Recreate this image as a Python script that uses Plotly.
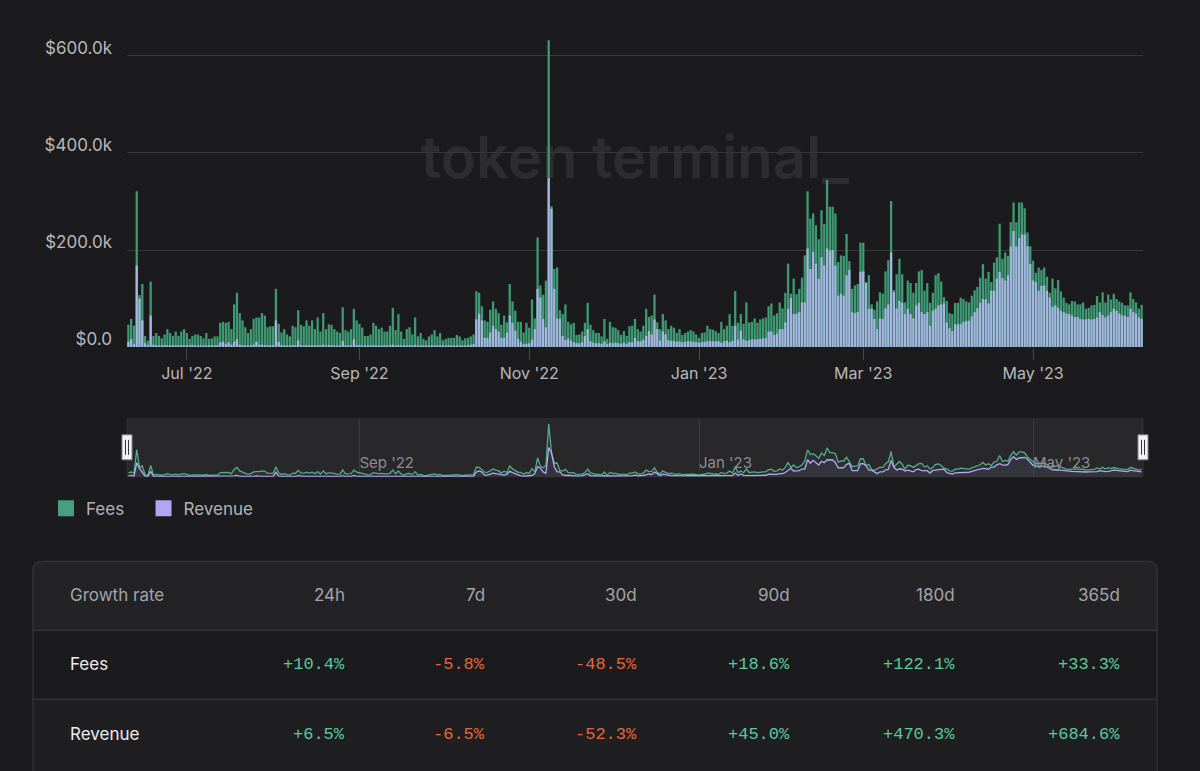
import plotly.graph_objects as go
import pandas as pd

# ---------------- data (daily, thousands of USD) ----------------
start_date = "2022-06-10"

fees_k = [
    46, 58, 44, 321, 107, 130, 23, 13, 135, 23,
    29, 23, 18, 26, 37, 29, 23, 32, 23, 32,
    37, 29, 17, 23, 26, 26, 23, 18, 29, 17,
    18, 22, 22, 50, 52, 50, 52, 37, 88, 112,
    70, 55, 41, 29, 37, 58, 61, 61, 70, 65,
    41, 43, 43, 120, 48, 30, 37, 26, 22, 44,
    41, 76, 46, 43, 55, 44, 55, 37, 61, 32,
    70, 37, 47, 46, 37, 32, 29, 82, 35, 32,
    37, 79, 55, 48, 40, 23, 23, 26, 50, 44,
    37, 40, 32, 32, 44, 81, 35, 68, 32, 17,
    37, 41, 26, 61, 22, 29, 17, 14, 22, 26,
    35, 22, 29, 14, 17, 19, 19, 19, 25, 22, 14, 18,
    19, 22, 26, 115, 112, 84, 55, 52, 77, 94,
    79, 70, 46, 65, 51, 130, 94, 75, 52, 52,
    30, 50, 40, 98, 59, 226, 127, 108, 137, 632,
    290, 161, 164, 76, 68, 88, 52, 47, 50, 25,
    26, 32, 50, 91, 46, 35, 29, 29, 22, 58,
    17, 52, 41, 40, 35, 25, 33, 23, 43, 44,
    58, 37, 32, 44, 79, 62, 65, 108, 51, 37,
    68, 55, 37, 44, 40, 29, 37, 25, 29, 32,
    35, 32, 26, 19, 29, 30, 44, 37, 36, 33,
    29, 52, 37, 44, 68, 44, 115, 50, 68, 48,
    92, 51, 52, 59, 50, 57, 59, 61, 84, 90,
    65, 70, 92, 80, 112, 172, 110, 141, 109, 120, 143, 189,
    321, 265, 275, 251, 222, 282, 254, 344, 289, 289,
    275, 175, 189, 188, 233, 177, 120, 127, 130, 215,
    215, 134, 148, 88, 77, 94, 113, 110, 156, 179,
    301, 117, 150, 182, 150, 92, 137, 132, 112, 132,
    156, 159, 116, 132, 91, 112, 148, 152, 135, 103,
    95, 70, 68, 91, 91, 102, 99, 94, 92, 106,
    117, 124, 143, 171, 141, 155, 134, 174, 185, 254,
    182, 195, 188, 257, 298, 257, 298, 298, 286, 236,
    208, 178, 153, 164, 159, 164, 145, 112, 141, 121,
    138, 115, 102, 91, 88, 95, 94, 88, 88, 92,
    79, 81, 86, 87, 105, 92, 113, 92, 108, 98,
    110, 99, 94, 91, 86, 86, 113, 99, 92, 79, 87,
]

revenue_k = [
    11, 16, 6, 168, 100, 55, 8, 4, 65, 5,
    4, 3, 3, 4, 3, 3, 4, 3, 3, 4,
    3, 3, 3, 4, 3, 3, 3, 3, 3, 3,
    3, 3, 4, 10, 11, 6, 10, 5, 11, 16,
    5, 4, 3, 3, 3, 5, 11, 5, 5, 4,
    3, 4, 4, 55, 11, 4, 3, 3, 3, 4,
    3, 14, 4, 3, 4, 3, 4, 3, 4, 3,
    5, 3, 4, 4, 3, 3, 3, 13, 3, 3,
    3, 16, 4, 4, 3, 3, 3, 3, 4, 3,
    3, 3, 3, 3, 4, 5, 3, 4, 3, 3,
    3, 3, 3, 4, 3, 3, 3, 3, 3, 3,
    3, 3, 3, 3, 3, 3, 3, 3, 3, 3, 3, 3,
    4, 5, 6, 57, 69, 55, 19, 19, 30, 44,
    37, 32, 19, 19, 30, 65, 50, 34, 17, 11,
    6, 7, 8, 15, 37, 120, 102, 58, 41, 348,
    285, 120, 59, 58, 23, 15, 18, 13, 10, 8,
    8, 10, 23, 37, 12, 9, 8, 8, 7, 12,
    6, 9, 8, 9, 8, 7, 9, 7, 10, 10,
    19, 12, 12, 15, 23, 33, 26, 57, 37, 13,
    32, 26, 14, 13, 13, 11, 12, 10, 11, 12,
    12, 11, 10, 9, 10, 11, 12, 13, 12, 12,
    12, 9, 12, 13, 10, 13, 44, 15, 34, 16,
    13, 14, 16, 16, 16, 17, 18, 18, 32, 32,
    25, 28, 37, 37, 51, 79, 101, 68, 69, 72, 92, 92,
    203, 161, 196, 172, 141, 185, 168, 203, 199, 200,
    168, 106, 110, 106, 148, 159, 72, 70, 72, 155,
    156, 132, 79, 79, 58, 37, 59, 58, 80, 88,
    195, 113, 80, 95, 91, 68, 79, 68, 59, 86,
    91, 72, 68, 72, 44, 75, 79, 86, 88, 90,
    51, 39, 33, 47, 47, 47, 52, 54, 54, 63,
    72, 80, 91, 99, 98, 90, 116, 116, 141, 155,
    142, 137, 148, 207, 239, 207, 224, 232, 232, 208,
    171, 137, 134, 116, 126, 127, 116, 102, 83, 86,
    81, 75, 72, 69, 68, 65, 62, 62, 58, 57,
    57, 58, 57, 58, 61, 72, 66, 61, 65, 72,
    79, 75, 69, 65, 65, 62, 79, 72, 69, 61, 58,
]

main_tick_dates = ["2022-07-01", "2022-09-01", "2022-11-01",
                   "2023-01-01", "2023-03-01", "2023-05-01"]
nav_tick_dates = ["2022-09-01", "2023-01-01", "2023-05-01"]
y_tick_vals = [0, 200, 400, 600]
y_tick_text = ["$0.0", "$200.0k", "$400.0k", "$600.0k"]

series_names = ["Fees", "Revenue"]
table_header = ["Growth rate", "24h", "7d", "30d", "90d", "180d", "365d"]
fees_growth = [10.4, -5.8, -48.5, 18.6, 122.1, 33.3]
revenue_growth = [6.5, -6.5, -52.3, 45.0, 470.3, 684.6]

# ---------------- styling ----------------
W, H = 1200, 771
BG = "#1b1b1e"
FEES_BAR = "#3f9a74"
REV_BAR = "#a2b6df"
FEES_LEG = "#4a9e80"
REV_LEG = "#b2a5f3"
FONT = "Inter"
MONO = "Liberation Mono"
POS = "#5cc89c"
NEG = "#e3673e"
NBSP = "\u00a0"


def px(x):
    return x / W


def py(y):
    return 1 - y / H


dates = pd.date_range(start_date, periods=len(fees_k), freq="D")
x_range = [dates[0] - pd.Timedelta(hours=12), dates[-1] + pd.Timedelta(hours=12)]

fig = go.Figure()

# main bars (overlaid)
fig.add_trace(go.Bar(x=dates, y=fees_k, name="Fees", marker_color=FEES_BAR,
                     marker_line_width=0, showlegend=False,
                     hovertemplate="%{x|%b %d, %Y}<br>Fees: $%{y:.1f}k<extra></extra>"))
fig.add_trace(go.Bar(x=dates, y=revenue_k, name="Revenue", marker_color=REV_BAR,
                     marker_line_width=0, showlegend=False,
                     hovertemplate="%{x|%b %d, %Y}<br>Revenue: $%{y:.1f}k<extra></extra>"))

# navigator lines
fig.add_trace(go.Scatter(x=dates, y=fees_k, mode="lines", xaxis="x2", yaxis="y2",
                         line=dict(color="#4fae88", width=1.3), fill="tozeroy",
                         fillcolor="rgba(255,255,255,0.035)", showlegend=False,
                         hoverinfo="skip"))
fig.add_trace(go.Scatter(x=dates, y=revenue_k, mode="lines", xaxis="x2", yaxis="y2",
                         line=dict(color="#b3a6f5", width=1.3), fill="tozeroy",
                         fillcolor="rgba(140,130,220,0.06)", showlegend=False,
                         hoverinfo="skip"))

# legend entries (padding after "Fees" to match entry spacing)
legend_labels = [series_names[0] + NBSP * 3, series_names[1]]
for name, col in zip(legend_labels, [FEES_LEG, REV_LEG]):
    fig.add_trace(go.Scatter(x=[None], y=[None], mode="markers", name=name,
                             marker=dict(symbol="square", size=16, color=col),
                             showlegend=True))

shapes = []
# watermark (behind gridlines/bars)
shapes.append(dict(type="rect", xref="paper", yref="paper",
                   x0=px(400), x1=px(870), y0=py(190), y1=py(120),
                   line=dict(width=0), fillcolor="rgba(0,0,0,0)", layer="below",
                   label=dict(text="token terminal_", textposition="middle center",
                              font=dict(family=FONT, size=58, color="#2d2d30", weight=600))))
# navigator background
shapes.append(dict(type="rect", xref="x2 domain", yref="y2 domain",
                   x0=0, x1=1, y0=0, y1=1, fillcolor="#28282b",
                   line=dict(color="#333336", width=1), layer="below"))
# navigator handles
for hx in (127, 1143):
    shapes.append(dict(type="rect", xref="paper", yref="paper",
                       x0=px(hx - 5), x1=px(hx + 5), y0=py(461), y1=py(436),
                       fillcolor="#f2f2f2", line=dict(color="#8a8a8a", width=1)))
    for dx in (-1.5, 1.5):
        shapes.append(dict(type="line", xref="paper", yref="paper",
                           x0=px(hx + dx), x1=px(hx + dx), y0=py(456), y1=py(441),
                           line=dict(color="#333333", width=1)))

# table box
L, R, T, B, r = 33, 1157, 563, 790, 10
box_path = (f"M {px(L)},{py(B)} L {px(L)},{py(T + r)} "
            f"Q {px(L)},{py(T)} {px(L + r)},{py(T)} L {px(R - r)},{py(T)} "
            f"Q {px(R)},{py(T)} {px(R)},{py(T + r)} L {px(R)},{py(B)} Z")
header_path = (f"M {px(L)},{py(632)} L {px(L)},{py(T + r)} "
               f"Q {px(L)},{py(T)} {px(L + r)},{py(T)} L {px(R - r)},{py(T)} "
               f"Q {px(R)},{py(T)} {px(R)},{py(T + r)} L {px(R)},{py(632)} Z")
shapes.append(dict(type="path", xref="paper", yref="paper", path=box_path,
                   fillcolor="#1f1f22", line=dict(color="#303034", width=1.5)))
shapes.append(dict(type="path", xref="paper", yref="paper", path=header_path,
                   fillcolor="#232326", line=dict(color="#303034", width=1.5)))
shapes.append(dict(type="rect", xref="paper", yref="paper",
                   x0=px(L + 1), x1=px(R - 1), y0=py(701), y1=py(632),
                   fillcolor="#1b1b1d", line=dict(width=0)))
for ly in (632, 701):
    shapes.append(dict(type="line", xref="paper", yref="paper",
                       x0=px(L), x1=px(R), y0=py(ly), y1=py(ly),
                       line=dict(color="#2f2f33", width=2)))

annotations = []
col_right = [347, 487, 639, 792, 957, 1122]
row_y = [597, 666, 736]
annotations.append(dict(text=table_header[0], x=px(68), y=py(row_y[0]), xref="paper",
                        yref="paper", xanchor="left", yanchor="middle", showarrow=False,
                        font=dict(family=FONT, size=17, color="#a3a3a8")))
for hdr, xr in zip(table_header[1:], col_right):
    annotations.append(dict(text=hdr, x=px(xr), y=py(row_y[0]), xref="paper", yref="paper",
                            xanchor="right", yanchor="middle", showarrow=False,
                            font=dict(family=FONT, size=17, color="#a3a3a8")))
for name, vals, ry in zip(series_names, [fees_growth, revenue_growth], row_y[1:]):
    annotations.append(dict(text=name, x=px(68), y=py(ry), xref="paper", yref="paper",
                            xanchor="left", yanchor="middle", showarrow=False,
                            font=dict(family=FONT, size=17, color="#ececec")))
    for v, xr in zip(vals, col_right):
        annotations.append(dict(text=f"{v:+.1f}%", x=px(xr), y=py(ry), xref="paper",
                                yref="paper", xanchor="right", yanchor="middle",
                                showarrow=False,
                                font=dict(family=MONO, size=17,
                                          color=POS if v >= 0 else NEG)))

fig.update_layout(
    width=W, height=H,
    margin=dict(l=0, r=0, t=0, b=0),
    paper_bgcolor=BG, plot_bgcolor=BG,
    font=dict(family=FONT, color="#b3b3b3"),
    barmode="overlay", bargap=0.18,
    xaxis=dict(domain=[px(127), px(1143)], range=x_range, type="date",
               tickvals=main_tick_dates, tickformat="%b '%y", ticks="outside",
               ticklen=12, tickcolor="#48484c", tickwidth=1,
               tickfont=dict(size=16, color="#b8b8b8"),
               showgrid=False, zeroline=False, showline=False, anchor="y"),
    yaxis=dict(domain=[py(348), py(36.5)], range=[0, 640],
               tickvals=y_tick_vals, ticktext=y_tick_text,
               tickfont=dict(size=17, color="#b8b8b8"),
               gridcolor="#37373a", gridwidth=1, zeroline=False, showline=False,
               ticks="", ticklabelshift=-8, ticklabelstandoff=14, anchor="x"),
    xaxis2=dict(domain=[px(127), px(1143)], range=x_range, type="date", anchor="y2",
                tickvals=nav_tick_dates, tickformat="%b '%y",
                ticklabelposition="inside right", ticks="",
                tickfont=dict(size=15, color="#8c8c8f"),
                showgrid=True, gridcolor="#3a3a3e", gridwidth=1,
                zeroline=False, showline=False),
    yaxis2=dict(domain=[py(478), py(420)], range=[0, 690], anchor="x2",
                showticklabels=False, showgrid=False, zeroline=False),
    legend=dict(orientation="h", x=px(46), y=py(510), xanchor="left", yanchor="middle",
                font=dict(size=17, color="#b3b3b3"), bgcolor="rgba(0,0,0,0)",
                itemsizing="trace"),
    shapes=shapes,
    annotations=annotations,
    hovermode="x",
)

fig.write_html(
    "out.html",
    config={"displayModeBar": False},
    post_script="document.body.style.margin='0px';document.body.style.background='#1b1b1e';",
)
